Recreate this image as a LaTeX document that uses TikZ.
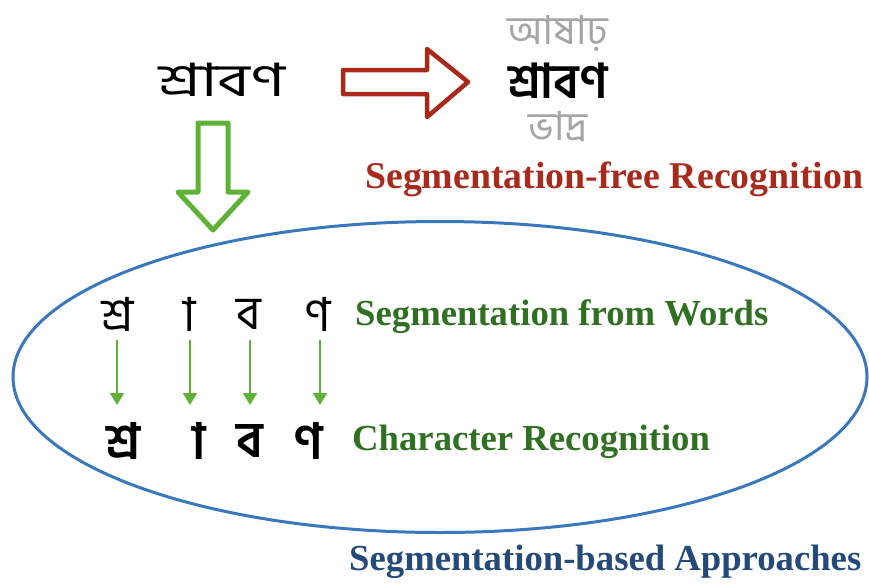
\documentclass[tikz,border=0pt]{standalone}
\usepackage{fontspec}
\setmainfont{Liberation Serif}
\newfontfamily\bengfont[Script=Bengali]{Hind Siliguri}
\newcommand{\aakar}{\XeTeXglyph\XeTeXcharglyph"09BE\relax}
\usetikzlibrary{shapes.geometric,arrows.meta}
\definecolor{redarrow}{RGB}{170,40,25}
\definecolor{redtext}{RGB}{168,42,28}
\definecolor{greenarrow}{RGB}{95,178,55}
\definecolor{greentext}{RGB}{48,112,34}
\definecolor{ellblue}{RGB}{58,120,190}
\definecolor{bluetext}{RGB}{36,74,122}
\definecolor{graytext}{RGB}{165,165,165}
\tikzset{
  label/.style={font=\fontsize{37}{40}\selectfont\bfseries, anchor=base west, inner sep=0pt},
  bn/.style={font=\bengfont\fontsize{#1}{#1}\selectfont, inner sep=0pt, anchor=center},
  bnb/.style={font=\bengfont\fontsize{#1}{#1}\selectfont\bfseries, inner sep=0pt, anchor=center},
  segarrow/.style={greenarrow, line width=1.6pt, -{Triangle[width=14pt,length=12pt]}},
  hollowred/.style={draw=redarrow, line width=4.5pt, line join=round, fill=white},
  hollowgreen/.style={draw=greenarrow, line width=5pt, line join=round, fill=white},
}
\begin{document}
\begin{tikzpicture}[x=1pt,y=-1pt]
\useasboundingbox (0,0) rectangle (869,586);
% top word and alternatives
\node[bn=46] (hw) at (222,80) {\scalebox{1.35}[1]{শ্রাবণ}};
\node[bn=40, text=graytext] (alt1) at (558,33) {আষাঢ়};
\node[bnb=48] (rec) at (558,81) {শ্রাবণ};
\node[bn=40, text=graytext] (alt2) at (558,127) {ভাদ্র};
% red hollow arrow
\draw[hollowred] (343,70) -- (427,70) -- (427,49) -- (468,82) -- (427,117) -- (427,94) -- (343,94) -- cycle;
\node[label, text=redtext, font=\fontsize{37.8}{40}\selectfont\bfseries] (free) at (365,188) {Segmentation-free Recognition};
% ellipse
\node[draw=ellblue, line width=3pt, ellipse, minimum width=854pt, minimum height=311pt, inner sep=0pt] (ell) at (440,377) {};
% green hollow arrow
\draw[hollowgreen] (198,123) -- (228,123) -- (228,192) -- (248,192) -- (213,230) -- (178,192) -- (198,192) -- cycle;
% segmented handwritten characters
\node[bn=47] (h1) at (118,314) {শ্র};
\node[bn=47] (h2) at (190,314) {\aakar};
\node[bn=47] (h3) at (249,314) {ব};
\node[bn=47] (h4) at (318,314) {ণ};
% printed characters
\node[bnb=50] (p1) at (123,441) {শ্র};
\node[bnb=50] (p2) at (199,441) {\aakar};
\node[bnb=50] (p3) at (250,441) {ব};
\node[bnb=50] (p4) at (308,441) {ণ};
\coordinate (s1) at (117,340); \coordinate (e1) at (117,405);
\coordinate (s2) at (190,340); \coordinate (e2) at (190,405);
\coordinate (s3) at (250,340); \coordinate (e3) at (250,405);
\coordinate (s4) at (320,340); \coordinate (e4) at (320,405);
\draw[segarrow] (s1) -- (e1);
\draw[segarrow] (s2) -- (e2);
\draw[segarrow] (s3) -- (e3);
\draw[segarrow] (s4) -- (e4);
\node[label, text=greentext, font=\fontsize{36.7}{40}\selectfont\bfseries] (segw) at (355,325) {Segmentation from Words};
\node[label, text=greentext, font=\fontsize{36.7}{40}\selectfont\bfseries] (charrec) at (352,450) {Character Recognition};
\node[label, text=bluetext, font=\fontsize{36.7}{40}\selectfont\bfseries] (segb) at (349,570) {Segmentation-based Approaches};
\end{tikzpicture}
\end{document}
